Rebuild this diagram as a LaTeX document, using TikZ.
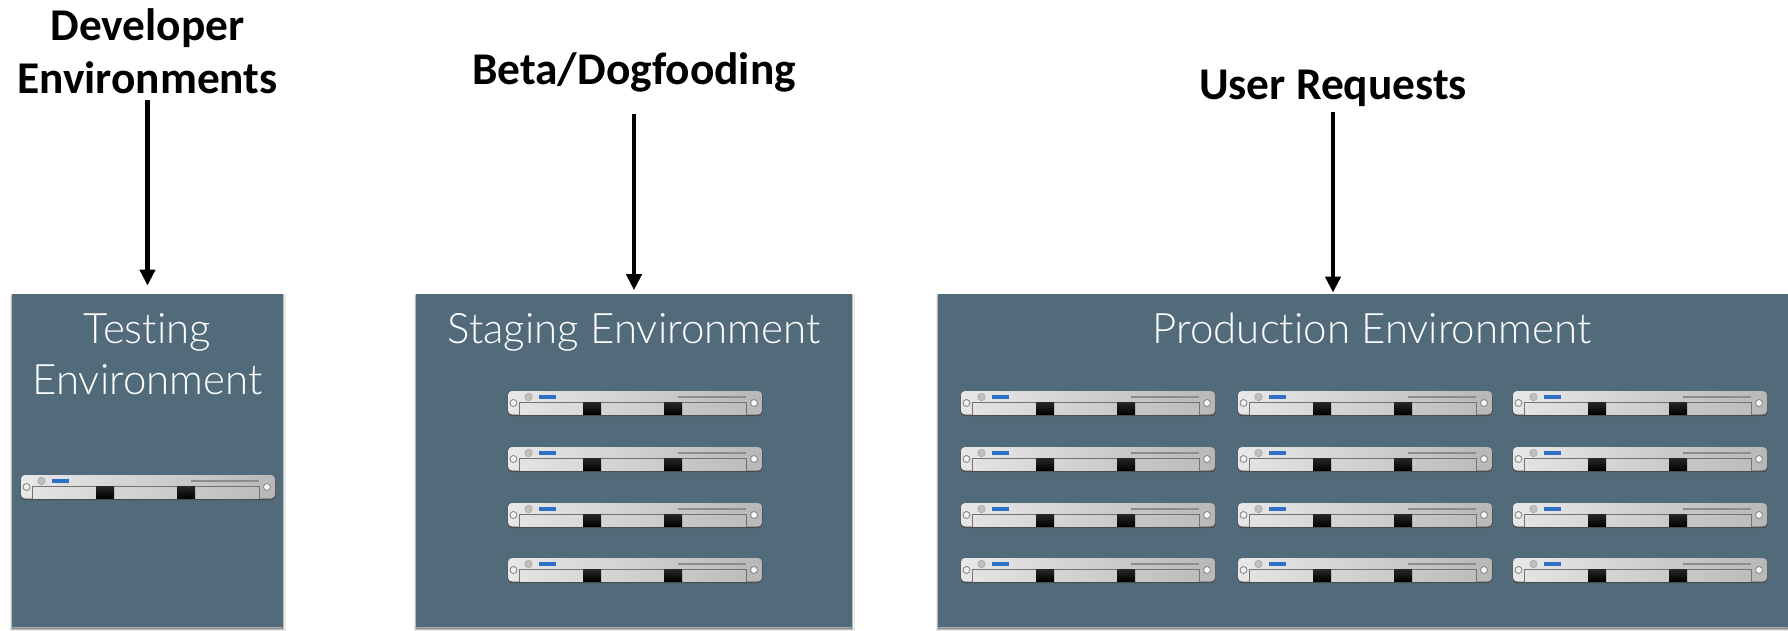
\documentclass[tikz,border=0pt]{standalone}
\usepackage{fontspec}
\setmainfont{Carlito}
\newfontfamily\lightfont[Ligatures=NoCommon]{Lato Light}
\usetikzlibrary{arrows.meta, shadows}
\definecolor{envblue}{HTML}{526B7A}
\definecolor{ledblue}{HTML}{2E70C4}
\tikzstyle{envbox} = [rectangle, minimum height=166.5pt, inner sep=0pt, fill=envblue, general shadow={fill=black, draw=black, line width=2.5pt, opacity=.08, shadow yshift=-1pt}, general shadow={fill=black, draw=black, line width=1pt, opacity=.2, shadow yshift=-1pt}]
\tikzstyle{envtitle} = [text=white, font=\lightfont\fontsize{21}{25.5}\selectfont, align=center, inner sep=0pt]
\tikzstyle{reqlabel} = [text=black, font=\bfseries\fontsize{22.7}{26.5}\selectfont, align=center, inner sep=0pt]
\tikzstyle{arrow} = [line width=2.3pt, -{Triangle[width=7.5pt, length=8pt]}]
\tikzset{
  pics/rackserver/.style={code={
    \draw [black!70, line width=.5pt, rounded corners=2pt, fill=black!70] (0,1) rectangle (254,24.5);
    \shade [rounded corners=2pt, left color=black!9, right color=black!28] (0,0) rectangle (254,23.5);
    \shade [draw=black!55, line width=.5pt, left color=black!11, right color=black!26] (11,23.5) -- (11,11.5) -- (238,11.5) -- (238,23.5);
    \shade [top color=black!85, bottom color=black] (75,11.5) rectangle (93,23.5);
    \shade [top color=black!85, bottom color=black] (156,11.5) rectangle (174,23.5);
    \fill [ledblue] (31,4) rectangle (48,8);
    \draw [black!35, fill=black!25, line width=.3pt] (20.5,6) circle [radius=3.7];
    \fill [black!45] (169.5,4.5) rectangle (238,6.5);
    \draw [black!50, fill=black!6, line width=.4pt] (5.5,12) circle [radius=3.5];
    \draw [black!50, fill=black!3, line width=.4pt] (246,12) circle [radius=3.5];
  }}
}

\begin{document}
\begin{tikzpicture}[x=.5pt, y=-.5pt, node distance=120pt]
\useasboundingbox (0,0) rectangle (1788,631);

\node (testing) [envbox, minimum width=135.5pt] at (147.5,460.5) {};
\node (staging) [envbox, minimum width=218pt, right of=testing, xshift=123.25pt] {};
\node (production) [envbox, minimum width=425pt, right of=staging, xshift=244.5pt] {};

\node (testingtitle) [envtitle, above of=testing, yshift=-67pt] {Testing\\Environment};
\node (stagingtitle) [envtitle, above of=staging, yshift=-55.7pt] {Staging Environment};
\node (productiontitle) [envtitle, above of=production, xshift=4.5pt, yshift=-54pt] {Production Environment};

\node (devlabel) [reqlabel, above of=testing, yshift=84.8pt] {Developer\\Environments};
\node (betalabel) [reqlabel, above of=staging, yshift=74pt] {Beta/Dogfooding};
\node (userlabel) [reqlabel, above of=production, xshift=-15pt, yshift=66pt] {User Requests};

\draw [arrow, shorten <=3.3pt, shorten >=4pt] (devlabel) -- (devlabel |- testing.north);
\draw [arrow, shorten <=10.5pt, shorten >=1.7pt] (betalabel) -- (betalabel |- staging.north);
\draw [arrow, shorten <=2.5pt, shorten >=.5pt] (userlabel) -- (userlabel |- production.north);

\pic at (21,475) {rackserver};
\foreach \y in {391,447,503,558} {
  \pic at (508,\y) {rackserver};
  \foreach \x in {961,1238,1513} {
    \pic at (\x,\y) {rackserver};
  }
}

\end{tikzpicture}
\end{document}
